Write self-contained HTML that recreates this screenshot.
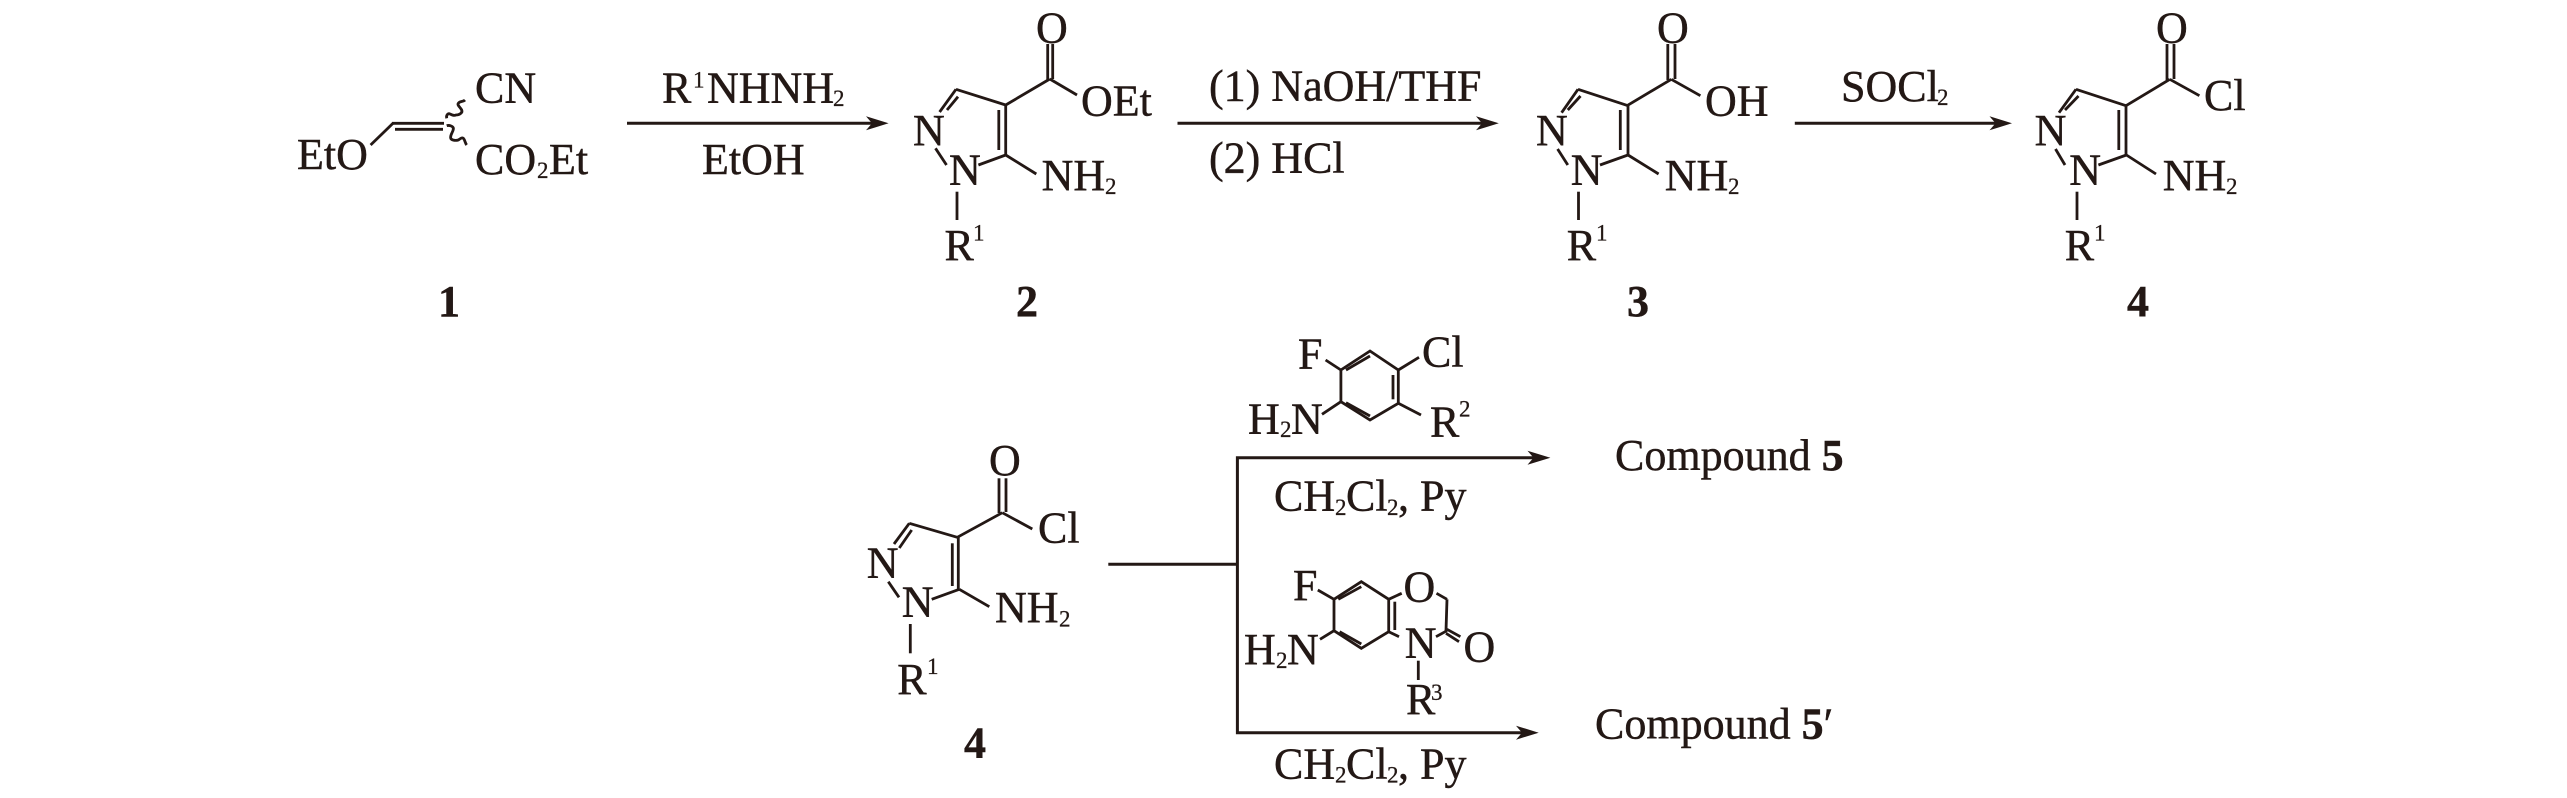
<!DOCTYPE html>
<html><head><meta charset="utf-8"><style>
html,body{margin:0;padding:0;background:#fff}
svg{display:block}
text{font-family:"Liberation Serif",serif;font-size:44px;fill:#231815;stroke:#231815;stroke-width:.45}
.s{font-size:23px;stroke-width:.3}
.b{font-weight:bold}
.l line,.l path{stroke:#231815;stroke-width:2.8;fill:none}
.a{stroke:#231815;stroke-width:3;fill:none}
.h{fill:#231815}
</style></head><body>
<svg width="2567" height="798" viewBox="0 0 2567 798" xmlns="http://www.w3.org/2000/svg">
<rect width="2567" height="798" fill="#fff"/>
<g class="l">
<!-- 1 -->
<line x1="370.6" y1="145" x2="393" y2="123.3"/><line x1="392" y1="123.3" x2="444" y2="123.3"/><line x1="395" y1="129.3" x2="443" y2="129.3"/>
<path d="M446.7 118.3C446 115 448 113 450 114C452 115 454 116 456 115C459 115 463 113 461.7 110C460 107 457 105 458.3 103.3C459.5 101 463 102 465 100"/>
<path d="M446.7 125.7C449 125 454 126 453.3 129.3C453 132 450 135 450.7 138C451 140 455 141 458.3 140C460 139 462 137 463.3 138.3C465 140 465 143 466.7 145"/>
<!-- 2 -->
<line x1="1047.7" y1="44" x2="1047.7" y2="80"/><line x1="1052.7" y1="44" x2="1052.7" y2="79"/>
<line x1="1005.7" y1="105" x2="1049.8" y2="79"/><line x1="1049.8" y1="79" x2="1077" y2="95"/>
<line x1="1005.7" y1="105" x2="956" y2="89.3"/><line x1="956" y1="89.3" x2="939.6" y2="112"/><line x1="958" y1="96.7" x2="947" y2="110"/>
<line x1="935.5" y1="148.3" x2="946.5" y2="165"/><line x1="978.4" y1="165" x2="1005.7" y2="155"/>
<line x1="1005.7" y1="155" x2="1005.7" y2="105"/><line x1="998.8" y1="150" x2="998.8" y2="110"/>
<line x1="1005.7" y1="155" x2="1036.3" y2="174"/><line x1="957" y1="191.7" x2="957" y2="220"/>
<!-- 3 -->
<line x1="1667.8" y1="44" x2="1667.8" y2="80"/><line x1="1675" y1="44" x2="1675" y2="79"/>
<line x1="1627" y1="105.7" x2="1671.3" y2="79.3"/><line x1="1671.3" y1="79.3" x2="1700.4" y2="95.7"/>
<line x1="1628" y1="105.7" x2="1578" y2="89.3"/><line x1="1578" y1="89.3" x2="1561.6" y2="112.7"/><line x1="1580.5" y1="96" x2="1567.8" y2="110"/>
<line x1="1557.6" y1="149" x2="1567.8" y2="165"/><line x1="1600" y1="165" x2="1628" y2="155"/>
<line x1="1628" y1="155" x2="1628" y2="105.7"/><line x1="1620.3" y1="150" x2="1620.3" y2="110"/>
<line x1="1628" y1="155" x2="1658.6" y2="174"/><line x1="1578.5" y1="191.7" x2="1578.5" y2="220"/>
<!-- 4 top -->
<line x1="2167" y1="44" x2="2167" y2="80"/><line x1="2174" y1="44" x2="2174" y2="79"/>
<line x1="2126" y1="105.7" x2="2169.8" y2="79.3"/><line x1="2169.8" y1="79.3" x2="2199.4" y2="95.7"/>
<line x1="2126" y1="105.7" x2="2076" y2="89.3"/><line x1="2076" y1="89.3" x2="2059" y2="112.7"/><line x1="2078.5" y1="96" x2="2065" y2="110"/>
<line x1="2055.5" y1="149" x2="2065" y2="165"/><line x1="2098.4" y1="165" x2="2126.4" y2="155"/>
<line x1="2126" y1="155" x2="2126" y2="105.7"/><line x1="2118.8" y1="150" x2="2118.8" y2="110"/>
<line x1="2126.4" y1="155" x2="2156" y2="174"/><line x1="2077" y1="191.7" x2="2077" y2="220"/>
<!-- 4 bottom -->
<line x1="999" y1="478.3" x2="999" y2="513"/><line x1="1006" y1="478.3" x2="1006" y2="512"/>
<line x1="957.3" y1="537.3" x2="1002.3" y2="512.7"/><line x1="1002.3" y1="512.7" x2="1032.3" y2="529"/>
<line x1="957.3" y1="537.3" x2="909.3" y2="523.3"/><line x1="909.3" y1="523.3" x2="894" y2="544"/><line x1="911.7" y1="530" x2="899.3" y2="548"/>
<line x1="888.3" y1="581.7" x2="899" y2="597.3"/><line x1="931.7" y1="599.3" x2="959.3" y2="589.3"/>
<line x1="958.3" y1="537.3" x2="958.3" y2="589.3"/><line x1="952.3" y1="543.3" x2="952.3" y2="586"/>
<line x1="959.3" y1="589.3" x2="989.3" y2="606.7"/><line x1="910.3" y1="624" x2="910.3" y2="653.3"/>
<!-- aniline -->
<path d="M1370 351L1398.3 370V403.3L1370 420L1340.9 401.7V370Z"/>
<line x1="1346" y1="370" x2="1370" y2="356"/><line x1="1393" y1="375" x2="1393" y2="399.3"/><line x1="1346" y1="402.7" x2="1370" y2="416"/>
<line x1="1340.9" y1="370" x2="1325.6" y2="360"/><line x1="1398.3" y1="370" x2="1419" y2="357.3"/>
<line x1="1398.3" y1="403.3" x2="1421" y2="415"/><line x1="1340.9" y1="401.7" x2="1322" y2="414.3"/>
<!-- benzoxazinone -->
<path d="M1361.3 581.7L1388.7 599.3V631.7L1361.3 648.3L1334 630.7V599.3Z"/>
<line x1="1338.3" y1="599.3" x2="1361.3" y2="586.7"/><line x1="1394.8" y1="601.7" x2="1394.8" y2="630"/><line x1="1339.6" y1="631.7" x2="1361.3" y2="644"/>
<line x1="1334" y1="599.3" x2="1317.8" y2="590"/><line x1="1334" y1="630.7" x2="1320" y2="639.3"/>
<line x1="1388.7" y1="599.3" x2="1401.7" y2="593.3"/><line x1="1436.5" y1="593.3" x2="1447" y2="599.3"/>
<line x1="1447" y1="599.3" x2="1446" y2="630.7"/><line x1="1447" y1="629.3" x2="1460.4" y2="636.7"/><line x1="1446" y1="633.3" x2="1459" y2="641.7"/>
<line x1="1436" y1="636.7" x2="1447" y2="630.7"/><line x1="1388.7" y1="631.7" x2="1399" y2="636.7"/><line x1="1418.3" y1="660.7" x2="1418.3" y2="680"/>
</g>
<!-- arrows -->
<line class="a" x1="627" y1="123.3" x2="880" y2="123.3"/><path class="h" d="M888.6 123.3L866 116.3L872 123.3L866 130.3Z"/>
<line class="a" x1="1177.5" y1="123.3" x2="1490" y2="123.3"/><path class="h" d="M1498.8 123.3L1476 116.3L1482 123.3L1476 130.3Z"/>
<line class="a" x1="1794.8" y1="123.3" x2="2003" y2="123.3"/><path class="h" d="M2012 123.3L1989.5 116.3L1995.5 123.3L1989.5 130.3Z"/>
<line class="a" x1="1108.3" y1="564.3" x2="1237" y2="564.3"/>
<path class="a" d="M1542 457.7H1237.4V732.7H1530"/>
<path class="h" d="M1550.4 457.7L1527.5 450.7L1533.5 457.7L1527.5 464.7Z"/>
<path class="h" d="M1538.7 732.7L1516 725.7L1522 732.7L1516 739.7Z"/>
<!-- labels: 1 -->
<text x="297" y="169">EtO</text>
<text x="475" y="102.7">CN</text>
<text x="475" y="174">CO</text><text class="s" x="537" y="178">2</text><text x="549" y="174">Et</text>
<text x="438" y="316" class="b">1</text>
<text x="662" y="102.3">R</text><text class="s" x="693" y="87.3">1</text><text x="707" y="102.3">NHNH</text><text class="s" x="833" y="106">2</text>
<text x="702" y="174">EtOH</text>
<!-- 2 -->
<text x="1036" y="42.7">O</text><text x="1081" y="115.7">OEt</text>
<text x="913" y="145">N</text><text x="949" y="184.3">N</text>
<text x="1041.6" y="190">NH</text><text class="s" x="1105" y="194">2</text>
<text x="944.5" y="260">R</text><text class="s" x="973" y="240.7">1</text>
<text x="1016" y="316" class="b">2</text>
<text x="1209" y="100.7">(1) NaOH/THF</text><text x="1209" y="172.7">(2) HCl</text>
<!-- 3 -->
<text x="1657" y="42.7">O</text><text x="1705" y="115.7">OH</text>
<text x="1536" y="145">N</text><text x="1570.8" y="184.3">N</text>
<text x="1664.7" y="190">NH</text><text class="s" x="1728" y="194">2</text>
<text x="1566.7" y="260">R</text><text class="s" x="1596" y="240.7">1</text>
<text x="1627" y="316" class="b">3</text>
<text x="1841" y="101">SOCl</text><text class="s" x="1937" y="105">2</text>
<!-- 4 top -->
<text x="2156" y="42.7">O</text><text x="2204" y="110">Cl</text>
<text x="2034.6" y="145">N</text><text x="2069.3" y="184.3">N</text>
<text x="2162.7" y="190">NH</text><text class="s" x="2226" y="194">2</text>
<text x="2064.7" y="260">R</text><text class="s" x="2094" y="240.7">1</text>
<text x="2127" y="316" class="b">4</text>
<!-- 4 bottom -->
<text x="989" y="475">O</text><text x="1038" y="542.7">Cl</text>
<text x="866.7" y="577.3">N</text><text x="901.7" y="616.7">N</text>
<text x="995" y="622">NH</text><text class="s" x="1059" y="626.7">2</text>
<text x="897.3" y="694">R</text><text class="s" x="927" y="674">1</text>
<text x="964" y="757.3" class="b">4</text>
<!-- reagents -->
<text x="1298" y="368.3">F</text><text x="1422" y="366.7">Cl</text>
<text x="1248" y="433.3">H</text><text class="s" x="1280" y="437">2</text><text x="1291" y="433.3">N</text>
<text x="1430" y="436.7">R</text><text class="s" x="1459" y="416.7">2</text>
<text x="1274" y="510.7">CH</text><text class="s" x="1335" y="515">2</text><text x="1346" y="510.7">Cl</text><text class="s" x="1387" y="515">2</text><text x="1398" y="510.7">, Py</text>
<text x="1615" y="470">Compound <tspan class="b">5</tspan></text>
<text x="1293" y="600">F</text><text x="1403.5" y="601.7">O</text>
<text x="1244" y="664">H</text><text class="s" x="1276" y="668">2</text><text x="1287" y="664">N</text>
<text x="1404.8" y="657.3">N</text><text x="1463.5" y="661.7">O</text>
<text x="1406" y="714">R</text><text class="s" x="1431" y="700">3</text>
<text x="1274" y="778.3">CH</text><text class="s" x="1335" y="782.5">2</text><text x="1346" y="778.3">Cl</text><text class="s" x="1387" y="782.5">2</text><text x="1398" y="778.3">, Py</text>
<text x="1595" y="738.3">Compound <tspan class="b">5</tspan>′</text>
</svg>
</body></html>
